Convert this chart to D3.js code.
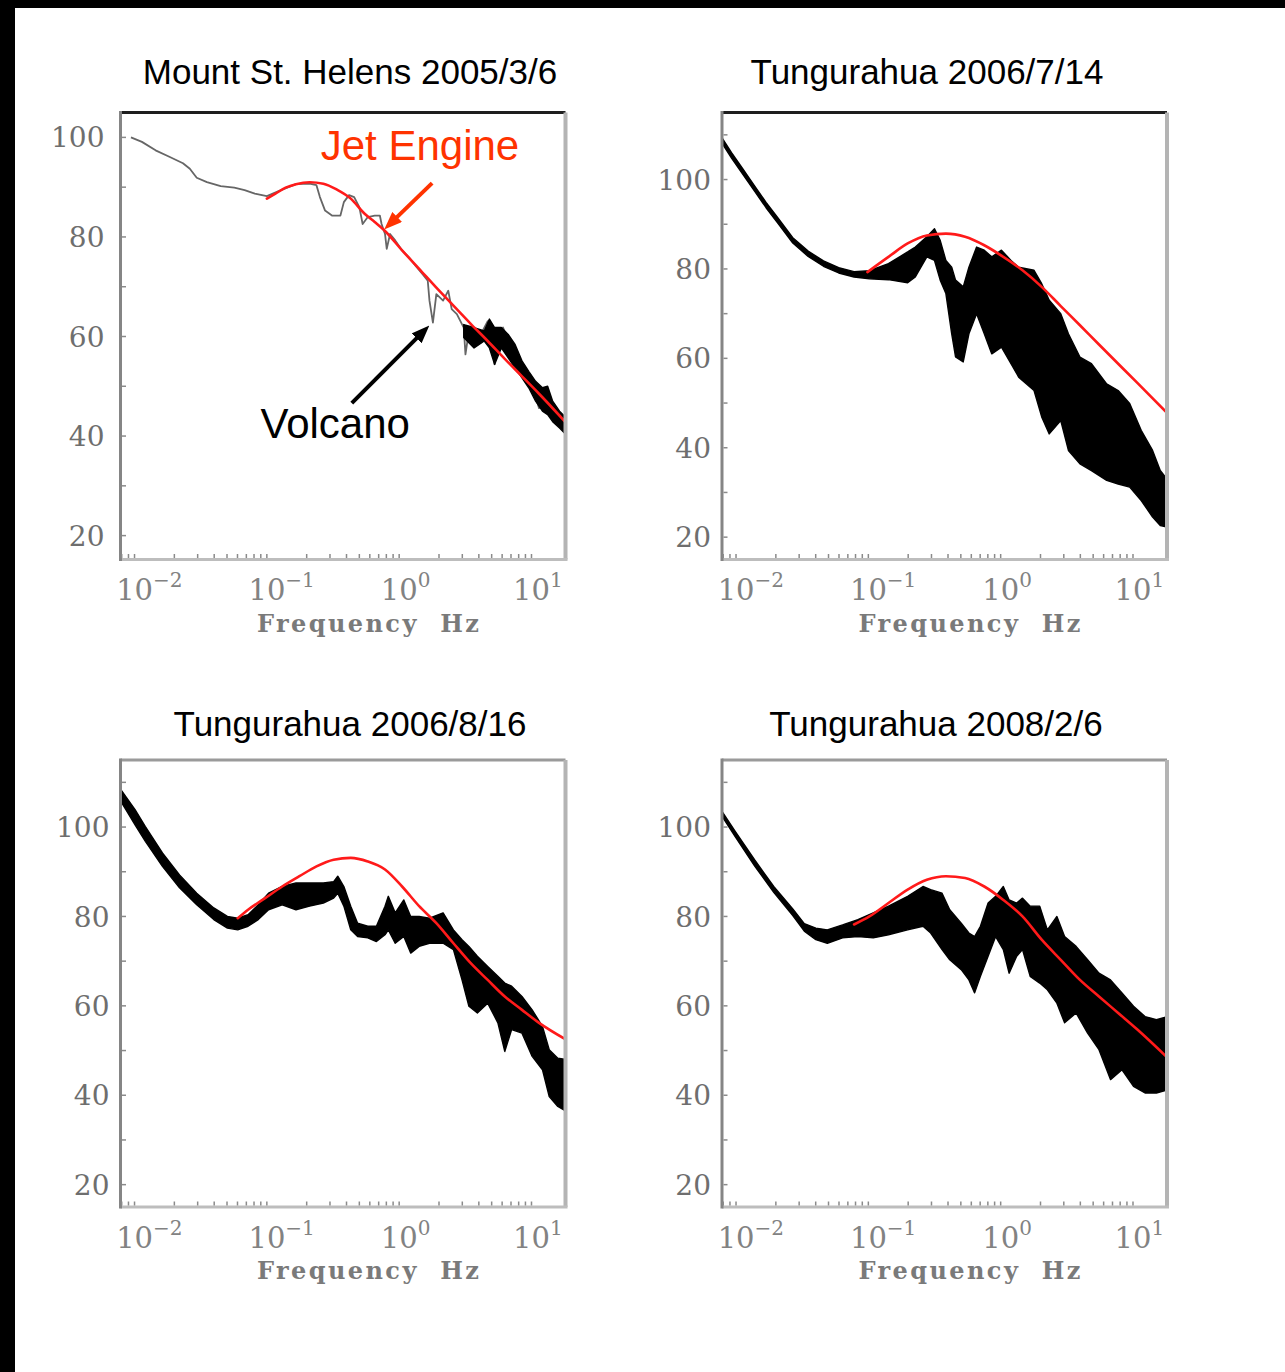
<!DOCTYPE html>
<html>
<head>
<meta charset="utf-8">
<script src="https://cdn.jsdelivr.net/npm/d3@7"></script>
<style>
  html, body { margin: 0; padding: 0; background: #fff; }
  svg { display: block; }
</style>
</head>
<body>
<svg id="fig" width="1285" height="1372"></svg>
<script>
// ---- axis ticks and labels ----
const freqTicks = [0.01, 0.1, 1, 10];
const freqTickExps = ["\u22122", "\u22121", "0", "1"];
const levelTicks = [20, 40, 60, 80, 100];
const panelTitles = [
  "Mount St. Helens 2005/3/6",
  "Tungurahua 2006/7/14",
  "Tungurahua 2006/8/16",
  "Tungurahua 2008/2/6"
];
const freqAxisLabel = "Frequency  Hz";

// ---- spectra ----
// single trace: [log10 frequency (Hz), level (dB)]
// bundle of traces: [log10 frequency (Hz), upper level, lower level]

// Mount St. Helens, volcano trace
const helensVolcano = [
  [-2.027,100.0],[-1.944,99.1],[-1.841,97.4],[-1.737,96.1],[-1.634,94.8],[-1.582,93.7],
  [-1.530,91.9],[-1.453,91.0],[-1.349,90.2],[-1.246,89.9],[-1.168,89.4],[-1.091,88.7],
  [-1.000,88.2],[-0.884,89.5],[-0.780,90.6],[-0.677,90.7],[-0.625,90.4],[-0.599,88.0],
  [-0.560,85.3],[-0.508,84.3],[-0.444,84.3],[-0.418,87.0],[-0.379,88.4],[-0.340,88.0],
  [-0.301,86.0],[-0.276,82.6],[-0.237,84.0],[-0.185,84.3],[-0.146,84.3],[-0.133,82.6],
  [-0.107,80.6],[-0.094,77.6],[-0.069,80.6],[-0.030,79.3],[0.022,77.3],[0.074,75.9],
  [0.125,74.2],[0.177,72.5],[0.216,71.2],[0.229,67.2],[0.255,62.8],[0.281,68.5],
  [0.332,67.2],[0.371,69.2],[0.397,65.5],[0.436,64.5],[0.488,61.8],[0.501,56.4],
  [0.527,61.1],[0.578,59.1],[0.617,60.4],[0.669,63.1],[0.695,60.4],[0.721,54.4],
  [0.746,60.4],[0.785,61.8],[0.824,59.1],[0.876,57.7],[0.915,53.7],[0.953,53.0],
  [1.005,50.3],[1.057,45.6],[1.096,49.0],[1.135,45.6],[1.186,42.9],[1.225,43.6],[1.264,40.9]
];
// Mount St. Helens, dense high-frequency part of the volcano spectra
const helensVolcanoBand = [
  [0.488,62.4,59.8],[0.566,61.8,57.7],[0.643,61.1,59.1],[0.682,63.5,57.7],[0.721,61.8,54.4],
  [0.772,61.8,57.7],[0.824,60.4,55.7],[0.876,58.4,53.7],[0.928,55.1,51.7],[0.979,53.0,49.7],
  [1.031,51.0,47.0],[1.083,49.7,45.0],[1.122,50.0,44.3],[1.160,47.0,42.9],[1.212,45.0,41.6],
  [1.264,43.6,40.2]
];
// Mount St. Helens, jet engine fit
const helensJet = [
  [-1.000,87.7],[-0.935,88.7],[-0.858,89.9],[-0.780,90.6],[-0.677,91.0],[-0.573,90.7],
  [-0.470,89.5],[-0.366,87.7],[-0.263,84.7],[-0.185,83.0],[-0.107,81.2],[0.022,77.3],
  [0.151,73.6],[0.281,69.8],[0.410,66.2],[0.539,62.6],[0.669,59.1],[0.798,55.5],
  [0.928,52.0],[1.057,48.5],[1.264,42.6]
];

// Tungurahua 2006/7/14
const tung0714Band = [
  [-2.112,109.6,108.4],[-2.034,106.0,104.8],[-1.947,102.3,101.1],[-1.860,98.6,97.4],
  [-1.773,94.9,93.7],[-1.686,91.5,90.3],[-1.571,87.0,85.8],[-1.455,84.0,82.8],
  [-1.339,81.8,80.6],[-1.224,80.3,79.1],[-1.108,79.4,78.2],[-0.992,79.6,77.8],
  [-0.848,81.2,77.6],[-0.703,83.8,76.9],[-0.645,84.9,78.2],[-0.558,87.2,82.7],
  [-0.500,89.0,81.9],[-0.457,86.4,77.5],[-0.414,81.9,74.5],[-0.370,80.4,65.5],
  [-0.341,77.5,60.3],[-0.283,76.0,59.2],[-0.240,80.4,65.5],[-0.182,84.9,70.0],
  [-0.124,84.2,65.5],[-0.067,82.7,61.0],[0.006,84.2,62.5],[0.078,81.9,58.8],
  [0.136,80.4,55.8],[0.252,79.7,52.8],[0.310,76.7,46.9],[0.367,73.0,43.1],
  [0.454,70.0,46.1],[0.512,65.5,39.4],[0.599,60.3,36.4],[0.686,58.8,34.9],
  [0.801,54.3,32.7],[0.888,52.8,31.9],[0.975,49.9,31.2],[1.062,43.9,28.2],
  [1.148,39.4,24.5],[1.206,34.9,22.6],[1.264,32.7,22.2]
];
const tung0714Jet = [
  [-1.007,79.3],[-0.848,82.7],[-0.703,85.7],[-0.558,87.5],[-0.414,87.9],[-0.269,87.2],
  [-0.124,85.3],[0.020,82.7],[0.165,79.7],[0.310,76.0],[0.454,71.7],[0.599,67.4],
  [0.743,63.1],[0.888,58.8],[1.033,54.5],[1.264,47.6]
];

// Tungurahua 2006/8/16
const tung0816Band = [
  [-2.106,108.5,105.9],[-1.996,103.9,100.5],[-1.918,100.1,96.8],[-1.789,94.2,91.2],
  [-1.660,89.3,86.4],[-1.530,85.2,82.6],[-1.401,81.9,79.3],[-1.298,80.0,77.4],
  [-1.220,79.6,77.0],[-1.142,80.4,77.8],[-1.065,82.6,79.3],[-0.987,85.2,81.5],
  [-0.884,86.7,82.6],[-0.780,87.5,81.5],[-0.677,87.5,82.3],[-0.573,87.5,83.0],
  [-0.495,87.8,84.1],[-0.464,89.0,85.2],[-0.418,86.7,82.3],[-0.366,82.3,77.0],
  [-0.314,78.5,75.5],[-0.237,77.8,75.2],[-0.172,77.8,74.4],[-0.107,82.3,75.9],
  [-0.082,84.5,77.0],[-0.030,80.8,74.0],[0.035,83.7,75.5],[0.087,80.0,71.8],
  [0.151,80.0,73.3],[0.229,79.6,74.0],[0.332,80.8,74.0],[0.410,77.0,72.6],
  [0.475,74.8,65.8],[0.527,73.3,59.9],[0.591,71.1,58.4],[0.669,68.8,60.6],
  [0.746,66.6,56.2],[0.798,65.1,49.8],[0.850,64.4,54.7],[0.928,62.1,53.9],
  [1.005,59.1,48.7],[1.083,55.4,45.7],[1.134,50.2,39.7],[1.199,48.3,37.5],[1.264,48.0,36.4]
];
const tung0816Jet = [
  [-1.220,79.6],[-1.142,81.5],[-1.013,84.1],[-0.884,86.7],[-0.754,89.0],[-0.625,91.2],
  [-0.495,92.7],[-0.366,93.1],[-0.237,92.3],[-0.107,90.5],[0.022,86.7],[0.151,82.3],
  [0.281,78.5],[0.410,74.0],[0.539,69.6],[0.669,65.8],[0.798,62.1],[0.928,59.1],
  [1.057,56.2],[1.264,52.4]
];

// Tungurahua 2008/2/6
const tung0208Band = [
  [-2.106,103.5,102.4],[-2.005,99.0,97.8],[-1.860,92.7,91.3],[-1.715,86.7,85.4],
  [-1.571,81.7,80.2],[-1.484,78.4,76.7],[-1.397,77.4,74.8],[-1.310,77.0,74.0],
  [-1.195,78.1,75.2],[-1.079,79.3,75.5],[-0.963,80.8,75.2],[-0.848,82.3,75.9],
  [-0.703,84.5,77.0],[-0.587,86.7,77.8],[-0.529,86.0,76.3],[-0.443,85.2,72.6],
  [-0.385,81.5,70.3],[-0.298,78.5,68.1],[-0.240,76.3,65.8],[-0.197,75.5,62.9],
  [-0.153,77.8,66.6],[-0.095,83.0,71.1],[-0.038,84.5,75.5],[0.020,86.7,72.6],
  [0.064,83.7,67.3],[0.121,83.0,71.1],[0.165,84.1,72.6],[0.223,82.3,66.6],
  [0.295,82.3,65.1],[0.353,77.0,63.6],[0.425,80.0,60.6],[0.483,75.5,56.2],
  [0.570,73.3,58.4],[0.657,70.3,53.9],[0.743,67.3,50.2],[0.830,65.8,43.5],
  [0.917,62.9,45.7],[1.004,59.9,42.0],[1.091,57.6,40.5],[1.177,56.9,40.5],[1.264,57.6,41.2]
];
const tung0208Jet = [
  [-1.108,78.2],[-0.992,80.0],[-0.848,83.0],[-0.703,86.0],[-0.558,88.2],[-0.414,89.0],
  [-0.269,88.6],[-0.124,86.7],[0.020,83.7],[0.165,80.0],[0.310,74.8],[0.454,70.3],
  [0.599,65.8],[0.743,62.1],[0.888,58.4],[1.033,54.7],[1.264,48.3]
];

// annotations in the first panel, in data coordinates [log10 Hz, dB]
const jetNote = { text: "Jet Engine", at: [-0.593, 95.4], from: [0.249, 90.8], to: [-0.113, 81.5] };
const volcanoNote = { text: "Volcano", at: [-1.048, 39.7], from: [-0.358, 46.6], to: [0.228, 62.2] };

// ---- layout ----
const W = 445, H = 447;
const xDomain = [Math.pow(10, -2.106), Math.pow(10, 1.257)];
const panels = [
  { left: 120.5, top: 112.5, yDomain: [15.2, 105], titleX: 350, titleBase: 84, topStroke: "#1e1e1e", labelGap: 16,
    band: helensVolcanoBand, trace: helensVolcano, jet: helensJet },
  { left: 722, top: 112.5, yDomain: [15, 115], titleX: 927, titleBase: 84, topStroke: "#1e1e1e", labelGap: 11,
    band: tung0714Band, jet: tung0714Jet },
  { left: 120.5, top: 760, yDomain: [15, 115], titleX: 350, titleBase: 736, topStroke: "#9a9a9a", labelGap: 11,
    band: tung0816Band, jet: tung0816Jet },
  { left: 722, top: 760, yDomain: [15, 115], titleX: 936, titleBase: 736, topStroke: "#9a9a9a", labelGap: 11,
    band: tung0208Band, jet: tung0208Jet }
];

const svg = d3.select("#fig");
const defs = svg.append("defs");

// black strips along the top and left edges of the figure
svg.append("rect").attr("x", 0).attr("y", 0).attr("width", 1285).attr("height", 8).attr("fill", "#000");
svg.append("rect").attr("x", 0).attr("y", 0).attr("width", 15).attr("height", 1372).attr("fill", "#000");

function addArrowMarker(id, color) {
  defs.append("marker")
    .attr("id", id)
    .attr("viewBox", "0 0 18 14")
    .attr("refX", 10).attr("refY", 7)
    .attr("markerWidth", 18).attr("markerHeight", 14)
    .attr("markerUnits", "userSpaceOnUse")
    .attr("orient", "auto")
    .append("path").attr("d", "M0,0 L18,7 L0,14 Z").attr("fill", color);
}
addArrowMarker("head-red", "#ff3300");
addArrowMarker("head-black", "#000");

const hz = d => Math.pow(10, d[0]);
const serifFont = "'DejaVu Serif', 'Liberation Serif', serif";
const sansFont = "'Liberation Sans', Arial, sans-serif";

panels.forEach((p, i) => {
  const x = d3.scaleLog().domain(xDomain).range([p.left, p.left + W]);
  const y = d3.scaleLinear().domain(p.yDomain).range([p.top + H, p.top]);
  const g = svg.append("g");
  const clipId = "plot-clip-" + i;
  defs.append("clipPath").attr("id", clipId)
    .append("rect").attr("x", p.left).attr("y", p.top).attr("width", W).attr("height", H);
  const plot = g.append("g").attr("clip-path", `url(#${clipId})`);

  // single volcano trace
  if (p.trace) {
    plot.append("path").datum(p.trace)
      .attr("d", d3.line().x(d => x(hz(d))).y(d => y(d[1])))
      .attr("fill", "none").attr("stroke", "#666").attr("stroke-width", 1.8)
      .attr("stroke-linejoin", "round");
  }
  // bundle of volcano traces
  if (p.band) {
    plot.append("path").datum(p.band)
      .attr("d", d3.area().x(d => x(hz(d))).y0(d => y(d[2])).y1(d => y(d[1])))
      .attr("fill", "#000").attr("stroke", "#000").attr("stroke-width", 1.4)
      .attr("stroke-linejoin", "round");
  }
  // jet engine spectrum
  plot.append("path").datum(p.jet)
    .attr("d", d3.line().curve(d3.curveMonotoneX).x(d => x(hz(d))).y(d => y(d[1])))
    .attr("fill", "none").attr("stroke", "#ff1a1a").attr("stroke-width", 2.6)
    .attr("stroke-linecap", "round");

  // frame
  const L = p.left, R = p.left + W, T = p.top, B = p.top + H;
  g.append("line").attr("x1", L).attr("x2", R).attr("y1", T).attr("y2", T)
    .attr("stroke", p.topStroke).attr("stroke-width", 3);
  g.append("line").attr("x1", R).attr("x2", R).attr("y1", T).attr("y2", B)
    .attr("stroke", "#b4b4b4").attr("stroke-width", 4);
  g.append("line").attr("x1", L).attr("x2", R + 2).attr("y1", B).attr("y2", B)
    .attr("stroke", "#bdbdbd").attr("stroke-width", 3);
  g.append("line").attr("x1", L).attr("x2", L).attr("y1", T - 1.5).attr("y2", B + 1.5)
    .attr("stroke", "#858585").attr("stroke-width", 3);

  // frequency ticks (1..9 per decade), inside the frame
  const minor = [];
  for (let e = -3; e <= 1; e++) for (let k = 1; k <= 9; k++) {
    const v = k * Math.pow(10, e);
    if (v >= xDomain[0] && v <= xDomain[1]) minor.push(v);
  }
  g.selectAll(null).data(minor).enter().append("line")
    .attr("x1", d => x(d)).attr("x2", d => x(d))
    .attr("y1", B - 1.5).attr("y2", B - 5.5)
    .attr("stroke", "#8a8a8a").attr("stroke-width", 1.5);

  // level ticks every 10 dB, inside the frame
  const yt = d3.range(20, p.yDomain[1], 10);
  g.selectAll(null).data(yt).enter().append("line")
    .attr("x1", L + 1.5).attr("x2", L + 5.5)
    .attr("y1", d => y(d)).attr("y2", d => y(d))
    .attr("stroke", "#8a8a8a").attr("stroke-width", 1.5);

  // level tick labels
  g.selectAll(null).data(levelTicks).enter().append("text")
    .attr("x", L - p.labelGap).attr("y", d => y(d)).attr("dy", "0.36em")
    .attr("text-anchor", "end")
    .attr("font-family", serifFont).attr("font-size", 28)
    .attr("fill", "#6e6e6e")
    .text(d => d);

  // frequency tick labels 10^n
  freqTicks.forEach((t, j) => {
    const txt = g.append("text")
      .attr("x", x(t) - 18.4).attr("y", B + 40.5)
      .attr("font-family", serifFont).attr("fill", "#828282");
    txt.append("tspan").attr("font-size", 29).text("10");
    txt.append("tspan").attr("font-size", 20).attr("dy", -13).text(freqTickExps[j]);
  });

  // axis label
  g.append("text")
    .attr("x", L + W / 2 + 25).attr("y", B + 72)
    .attr("text-anchor", "middle")
    .attr("font-family", serifFont).attr("font-size", 24).attr("font-weight", "bold")
    .attr("fill", "#7a7a7a")
    .attr("textLength", 222).attr("lengthAdjust", "spacing")
    .style("white-space", "pre")
    .text(freqAxisLabel);

  // title
  g.append("text")
    .attr("x", p.titleX).attr("y", p.titleBase)
    .attr("text-anchor", "middle")
    .attr("font-family", sansFont).attr("font-size", 35)
    .attr("fill", "#000")
    .text(panelTitles[i]);

  // annotations in the Mount St. Helens panel
  if (i === 0) {
    const px = d => [x(hz(d)), y(d[1])];
    const arrow = (note, color, marker) => {
      const [x1, y1] = px(note.from), [x2, y2] = px(note.to);
      const len = Math.hypot(x2 - x1, y2 - y1), back = 8;
      g.append("line")
        .attr("x1", x1).attr("y1", y1)
        .attr("x2", x2 - (x2 - x1) / len * back).attr("y2", y2 - (y2 - y1) / len * back)
        .attr("stroke", color).attr("stroke-width", 4)
        .attr("marker-end", `url(#${marker})`);
    };
    arrow(jetNote, "#ff3300", "head-red");
    arrow(volcanoNote, "#000", "head-black");
    const [jx, jy] = px(jetNote.at);
    g.append("text").attr("x", jx).attr("y", jy)
      .attr("font-family", sansFont).attr("font-size", 42).attr("fill", "#ff3300")
      .text(jetNote.text);
    const [vx, vy] = px(volcanoNote.at);
    g.append("text").attr("x", vx).attr("y", vy)
      .attr("font-family", sansFont).attr("font-size", 42).attr("fill", "#000")
      .text(volcanoNote.text);
  }
});
</script>
</body>
</html>
